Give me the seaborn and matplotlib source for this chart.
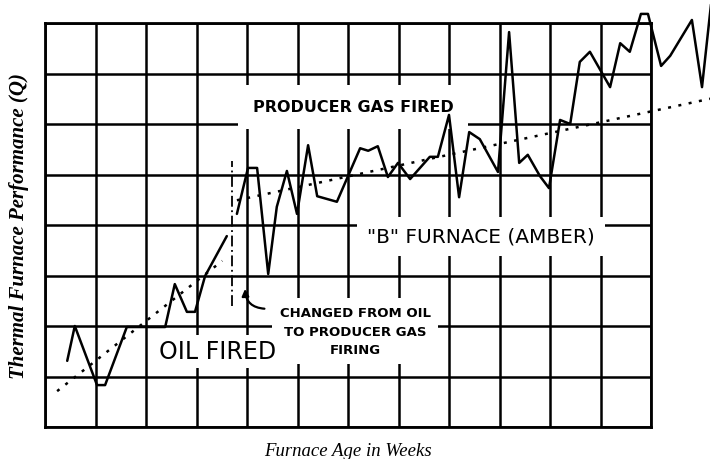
import numpy as np
import pandas as pd
import matplotlib
matplotlib.use("Agg")
import matplotlib.pyplot as plt
import seaborn as sns

sns.set_style("white")
plt.rcParams['font.family'] = ['DejaVu Sans']
plt.rcParams['text.color'] = 'black'
plt.rcParams['axes.labelcolor'] = 'black'

# Furnace age (weeks) and thermal performance Q
oil_weeks = [0.44, 0.59, 1.03, 1.19, 1.62, 2.38, 2.57, 2.81, 2.97, 3.17, 3.60]
oil_q = [1.31, 2.00, 0.83, 0.83, 1.98, 1.98, 2.83, 2.28, 2.28, 2.99, 3.78]

gas_weeks = [3.80, 4.02, 4.20, 4.42, 4.59, 4.79, 4.99, 5.21, 5.39, 5.78,
             6.24, 6.40, 6.59, 6.79, 6.99, 7.23, 7.62, 7.78, 8.00, 8.20,
             8.40, 8.61, 8.97, 9.19, 9.39, 9.56, 9.80, 9.98, 10.20, 10.40,
             10.59, 10.79, 11.19, 11.39, 11.58, 11.80, 11.94, 12.20, 12.38,
             12.81, 13.01, 13.21]
gas_q = [4.22, 5.13, 5.13, 3.03, 4.36, 5.07, 4.22, 5.58, 4.57, 4.46,
         5.52, 5.47, 5.56, 4.95, 5.23, 4.91, 5.35, 5.35, 6.18, 4.55,
         5.84, 5.70, 5.05, 7.82, 5.23, 5.39, 4.97, 4.73, 6.08, 6.00,
         7.23, 7.43, 6.73, 7.60, 7.43, 8.18, 8.18, 7.15, 7.35,
         8.06, 6.73, 8.57]

# trend lines
oil_trend_weeks = [0.24, 3.51]
oil_trend_q = [0.71, 3.29]
gas_trend_weeks = [3.80, 13.17]
gas_trend_q = [4.49, 6.50]

change_week = 3.70
change_q = [2.40, 5.27]

oil = pd.DataFrame({'week': oil_weeks, 'q': oil_q})
gas = pd.DataFrame({'week': gas_weeks, 'q': gas_q})

fig = plt.figure(figsize=(7.1, 4.6), dpi=100)
ax = fig.add_axes([45 / 710, 32 / 460, 606 / 710, 404 / 460])

sns.lineplot(data=oil, x='week', y='q', ax=ax, color='black', lw=1.8,
             estimator=None, clip_on=False, zorder=4)
sns.lineplot(data=gas, x='week', y='q', ax=ax, color='black', lw=1.8,
             estimator=None, clip_on=False, zorder=4)

ax.plot(oil_trend_weeks, oil_trend_q, color='black', lw=1.8,
        ls=(0, (1.2, 3)), clip_on=False, zorder=4)
ax.plot(gas_trend_weeks, gas_trend_q, color='black', lw=1.8,
        ls=(0, (1.2, 3)), clip_on=False, zorder=4)
ax.plot([change_week, change_week], change_q, color='black', lw=1.3,
        ls=(0, (6, 2, 1, 2)), zorder=4)

ax.set_xlim(0, 12)
ax.set_ylim(0, 8)
ax.set_xticks(range(13))
ax.set_yticks(range(9))
ax.set_xticklabels([])
ax.set_yticklabels([])
ax.tick_params(axis='x', length=4, width=1.6, direction='out', color='black')
ax.tick_params(axis='y', length=0)
ax.grid(True, color='black', lw=1.8)
ax.set_axisbelow(True)
for s in ax.spines.values():
    s.set_linewidth(2)
    s.set_color('black')

ax.text(6.10, 6.34, 'PRODUCER GAS FIRED', ha='center', va='center',
        fontsize=11.5, fontweight='semibold', zorder=3,
        bbox=dict(facecolor='white', edgecolor='none', boxstyle='square,pad=0.9'))
ax.text(8.63, 3.78, '"B" FURNACE (AMBER)', ha='center', va='center',
        fontsize=14.5, zorder=3,
        bbox=dict(facecolor='white', edgecolor='none', boxstyle='square,pad=0.5'))
ax.text(6.14, 1.90, 'CHANGED FROM OIL\nTO PRODUCER GAS\nFIRING', ha='center',
        va='center', fontsize=9.5, fontweight='bold', linespacing=1.55, zorder=3,
        bbox=dict(facecolor='white', edgecolor='none', boxstyle='square,pad=0.6'))
ax.text(3.41, 1.50, 'OIL FIRED', ha='center', va='center', fontsize=17,
        zorder=3,
        bbox=dict(facecolor='white', edgecolor='none', boxstyle='square,pad=0.2'))

ax.annotate('', xy=(3.96, 2.79), xytext=(4.40, 2.34),
            arrowprops=dict(arrowstyle='-|>', color='black', lw=1.6,
                            connectionstyle='arc3,rad=-0.5'), zorder=5)

ax.set_xlabel('Furnace Age in Weeks', family='Liberation Serif',
              style='italic', fontsize=13.5, labelpad=3)
ax.set_ylabel('Thermal Furnace Performance (Q)', family='Liberation Serif',
              style='italic', fontweight='bold', fontsize=15, labelpad=8)

fig.savefig('out.png', dpi=100)
plt.close(fig)
